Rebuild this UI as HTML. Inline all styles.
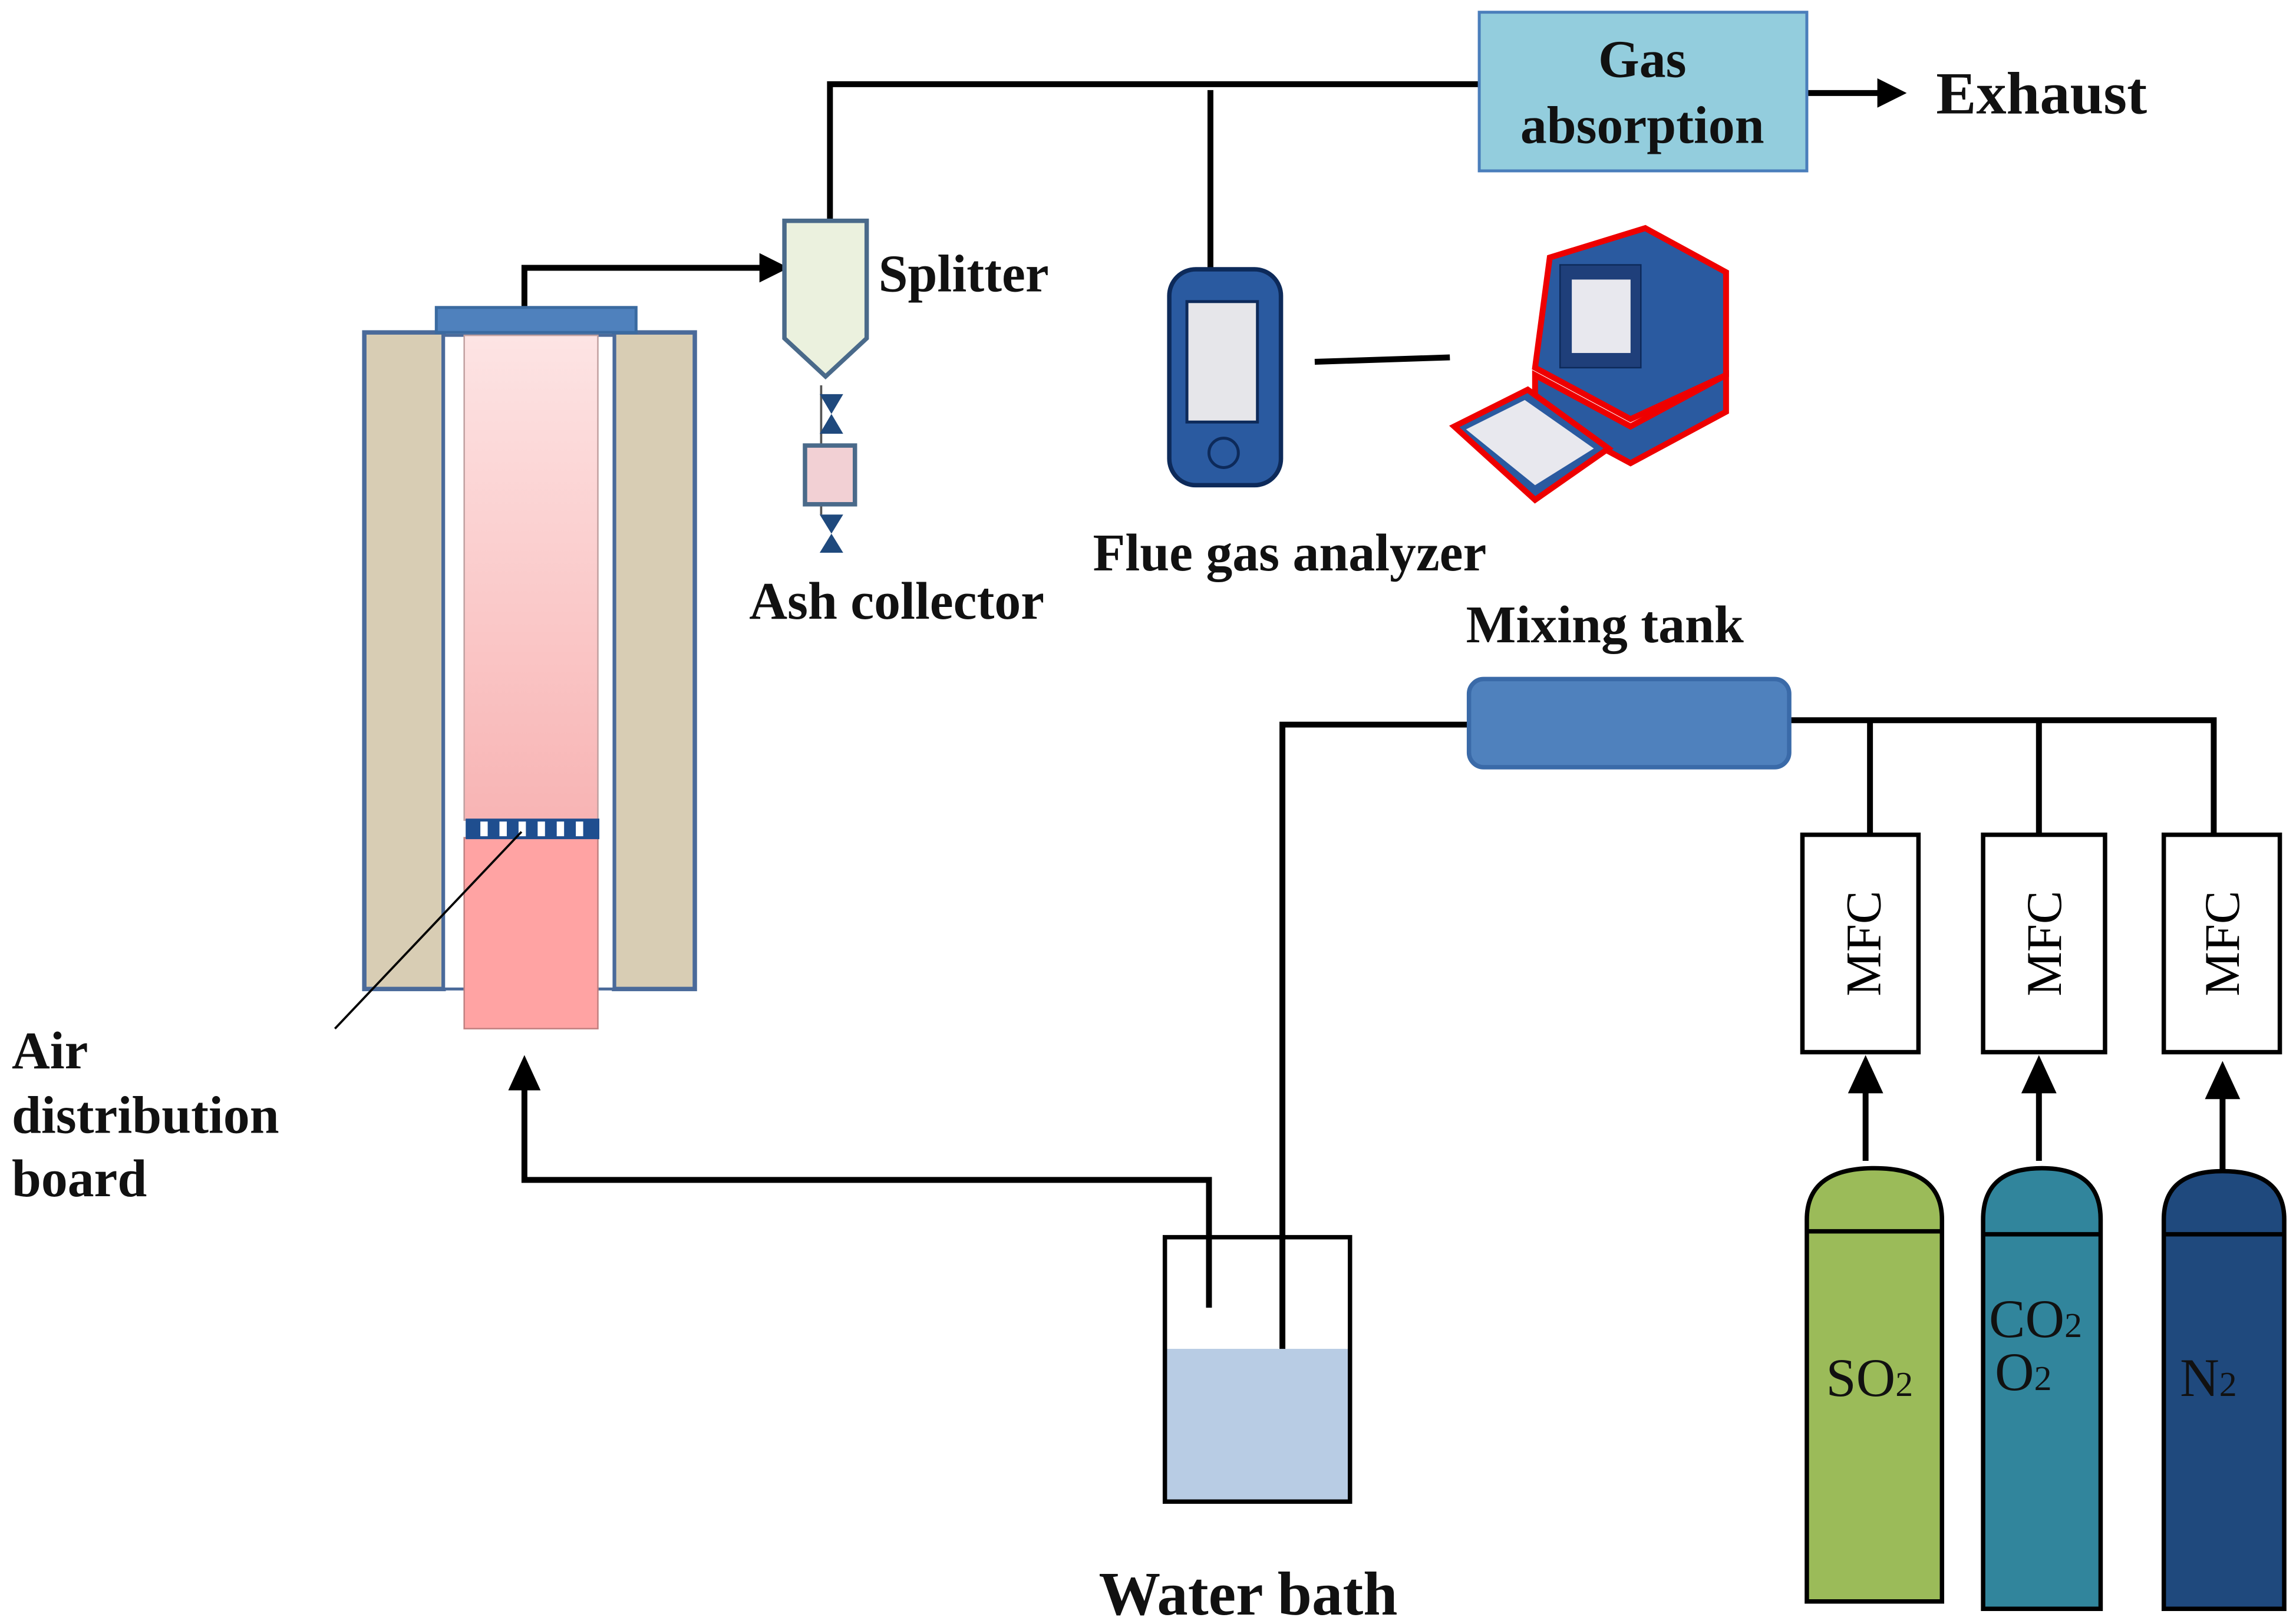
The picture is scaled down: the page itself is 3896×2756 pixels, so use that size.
<!DOCTYPE html>
<html><head><meta charset="utf-8"><style>
html,body{margin:0;padding:0;background:#fff;}
svg{display:block;}
text{font-family:"Liberation Serif",serif;}
.b{font-weight:bold;font-size:36px;fill:#111;}
</style></head><body>
<svg width="3896" height="2756" viewBox="0 0 1563 1105" xmlns="http://www.w3.org/2000/svg">
<defs>
<linearGradient id="tube" x1="0" y1="0" x2="0" y2="1">
<stop offset="0" stop-color="#fde4e4"/><stop offset="1" stop-color="#f8b4b4"/>
</linearGradient>
</defs>
<g stroke="#000" stroke-width="4" fill="none">
<polyline points="565,150 565,57 1007,57"/>
<line x1="824" y1="61" x2="824" y2="184"/>
<line x1="1230" y1="63" x2="1282" y2="63"/>
<polyline points="357,210 357,182 520,182"/>
<polyline points="823,890 823,803 357,803 357,738"/>
<polyline points="873,955 873,493 1000,493"/>
<polyline points="1218,490 1507,490 1507,568"/>
<line x1="1273" y1="490" x2="1273" y2="568"/>
<line x1="1388" y1="490" x2="1388" y2="568"/>
<line x1="1270" y1="790" x2="1270" y2="740"/>
<line x1="1388" y1="790" x2="1388" y2="740"/>
<line x1="1513" y1="798" x2="1513" y2="740"/>
<line x1="895" y1="246" x2="987" y2="243"/>
</g>
<g fill="#000">
<polygon points="1298,63 1278,53 1278,73"/>
<polygon points="537,182 517,172 517,192"/>
<polygon points="357,718 346,742 368,742"/>
<polygon points="1270,718 1258,744 1282,744"/>
<polygon points="1388,718 1376,744 1400,744"/>
<polygon points="1513,722 1501,748 1525,748"/>
</g>
<rect x="1007" y="8" width="223" height="108" fill="#93cddd" stroke="#4a7ebb" stroke-width="2"/>
<text class="b" x="1118" y="52" text-anchor="middle">Gas</text>
<text class="b" x="1118" y="97" text-anchor="middle">absorption</text>
<text class="b" x="1318" y="77" style="font-size:41px">Exhaust</text>
<polygon points="534,150 590,150 590,230 562,256 534,230" fill="#ebf1de" stroke="#4a6a8a" stroke-width="3"/>
<text class="b" x="598" y="198">Splitter</text>
<line x1="559" y1="262" x2="559" y2="350" stroke="#555" stroke-width="1.5"/>
<polygon points="558,268 574,268 558,295 574,295" fill="#1f497d"/>
<rect x="548" y="303" width="34" height="40" fill="#f2d0d4" stroke="#4a6a8a" stroke-width="3"/>
<polygon points="558,350 574,350 558,376 574,376" fill="#1f497d"/>
<text class="b" x="510" y="421">Ash collector</text>
<rect x="248" y="226" width="54" height="447" fill="#d8cdb4" stroke="#4a6a9a" stroke-width="3"/>
<rect x="418" y="226" width="55" height="447" fill="#d8cdb4" stroke="#4a6a9a" stroke-width="3"/>
<rect x="302" y="228" width="116" height="445" fill="#fff" stroke="#4a6a9a" stroke-width="2"/>
<rect x="297" y="209" width="136" height="17" fill="#4f81bd" stroke="#3a6aa0" stroke-width="2"/>
<rect x="316" y="228" width="91" height="330" fill="url(#tube)" stroke="#c0a0a0" stroke-width="1"/>
<rect x="316" y="570" width="91" height="130" fill="#ffa3a3" stroke="#c08080" stroke-width="1"/>
<rect x="317" y="557" width="91" height="14" fill="#1f4e8f"/>
<g fill="#fff"><rect x="327" y="559" width="5" height="10"/><rect x="340" y="559" width="5" height="10"/><rect x="353" y="559" width="5" height="10"/><rect x="366" y="559" width="5" height="10"/><rect x="379" y="559" width="5" height="10"/><rect x="392" y="559" width="5" height="10"/></g>
<line x1="228" y1="700" x2="355" y2="566" stroke="#000" stroke-width="1.5"/>
<text class="b" x="8" y="727">Air</text>
<text class="b" x="8" y="771">distribution</text>
<text class="b" x="8" y="814">board</text>
<rect x="796" y="183" width="76" height="147" rx="18" fill="#2a5aa0" stroke="#0d2a5a" stroke-width="3"/>
<rect x="808" y="205" width="48" height="82" fill="#e6e6ea" stroke="#0d2a5a" stroke-width="2"/>
<circle cx="833" cy="308" r="10" fill="none" stroke="#0d2a5a" stroke-width="2"/>
<polygon points="1055,175 1120,155 1175,185 1175,255 1110,285 1045,250" fill="#2a5aa0" stroke="#e00" stroke-width="4"/>
<rect x="1062" y="180" width="55" height="70" fill="#1f3f7a" stroke="#0d2a5a"/>
<rect x="1070" y="190" width="40" height="50" fill="#e8e8ee"/>
<polygon points="1045,255 1110,290 1175,255 1175,280 1110,315 1045,280" fill="#2a5aa0" stroke="#e00" stroke-width="4"/>
<polygon points="990,290 1040,265 1095,305 1045,340" fill="#2a5aa0" stroke="#e00" stroke-width="4"/>
<polygon points="998,292 1038,272 1085,305 1045,330" fill="#e8e8ee"/>
<text class="b" x="744" y="388">Flue gas analyzer</text>
<text class="b" x="998" y="437">Mixing tank</text>
<rect x="1000" y="462" width="218" height="60" rx="10" fill="#4f81bd" stroke="#3a6aa8" stroke-width="3"/>
<rect x="793" y="918" width="126" height="104" fill="#b8cce4"/>
<rect x="793" y="842" width="126" height="180" fill="none" stroke="#000" stroke-width="3"/>
<text class="b" x="748" y="1099" style="font-size:42px">Water bath</text>
<g fill="#fff" stroke="#000" stroke-width="3">
<rect x="1227" y="568" width="79" height="148"/>
<rect x="1350" y="568" width="83" height="148"/>
<rect x="1473" y="568" width="79" height="148"/>
</g>
<g font-size="34" fill="#000">
<text transform="translate(1280,642) rotate(-90)" text-anchor="middle">MFC</text>
<text transform="translate(1403,642) rotate(-90)" text-anchor="middle">MFC</text>
<text transform="translate(1524,642) rotate(-90)" text-anchor="middle">MFC</text>
</g>
<g stroke="#000" stroke-width="3">
<path d="M1230,1090 V830 Q1230,795 1276,795 Q1322,795 1322,830 V1090 Z" fill="#9bbb59"/>
<path d="M1350,1095 V830 Q1350,795 1390,795 Q1430,795 1430,830 V1095 Z" fill="#31859c"/>
<path d="M1473,1095 V830 Q1473,797 1513,797 Q1555,797 1555,830 V1095 Z" fill="#1f497d"/>
<line x1="1230" y1="838" x2="1322" y2="838"/>
<line x1="1350" y1="840" x2="1430" y2="840"/>
<line x1="1473" y1="840" x2="1555" y2="840"/>
</g>
<g font-size="37" fill="#111">
<text x="1243" y="950">SO<tspan font-size="24">2</tspan></text>
<text x="1354" y="910">CO<tspan font-size="24">2</tspan></text>
<text x="1358" y="946">O<tspan font-size="24">2</tspan></text>
<text x="1484" y="950">N<tspan font-size="24">2</tspan></text>
</g>
</svg>
</body></html>
